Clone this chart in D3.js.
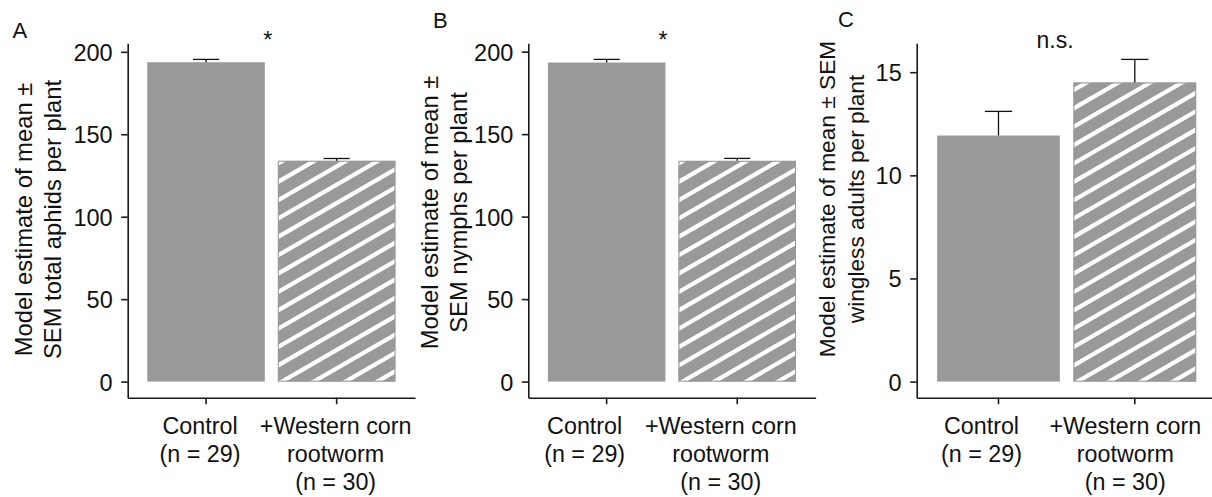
<!DOCTYPE html>
<html>
<head>
<meta charset="utf-8">
<script src="https://cdn.jsdelivr.net/npm/d3@7"></script>
<style>
  html, body { margin: 0; padding: 0; background: #fff; }
  svg { display: block; font-family: "Liberation Sans", Arial, Helvetica, sans-serif; }
</style>
</head>
<body>
<svg id="chart" width="1212" height="497"></svg>
<script>
// ---- data ----
const categories = ["Control", "+Western corn rootworm"];
const categoryLabels = [["Control", "(n = 29)"], ["+Western corn", "rootworm", "(n = 30)"]];

const totalAphidsMean = [193.7, 133.9];
const totalAphidsSem  = [1.7, 1.4];
const nymphsMean      = [193.4, 133.8];
const nymphsSem       = [1.9, 1.5];
const winglessMean    = [11.93, 14.50];
const winglessSem     = [1.17, 1.12];

const totalTicks    = [0, 50, 100, 150, 200];
const nymphTicks    = [0, 50, 100, 150, 200];
const winglessTicks = [0, 5, 10, 15];

const panelLetters = ["A", "B", "C"];
const yTitles = [
  ["Model estimate of mean \u00b1", "SEM total aphids per plant"],
  ["Model estimate of mean \u00b1", "SEM nymphs per plant"],
  ["Model estimate of mean \u00b1 SEM", "wingless adults per plant"]
];
const significance = ["*", "*", "n.s."];

const panels = [
  { mean: totalAphidsMean, sem: totalAphidsSem, ticks: totalTicks },
  { mean: nymphsMean,      sem: nymphsSem,      ticks: nymphTicks },
  { mean: winglessMean,    sem: winglessSem,    ticks: winglessTicks }
];

// ---- layout ----
const plotTop = 43.3, plotBottom = 397.7;
const layout = [
  { left: 127.7, right: 415.0,  titleX: [31.7, 60.5],   titleMid: 219.5, titleSize: 23.8, letter: [12.5, 38.3], noteDx: -3.5,  labelDx: [-6, -1] },
  { left: 528.3, right: 815.6,  titleX: [438.3, 466.7], titleMid: 212.5, titleSize: 23.8, letter: [433, 28.3],  noteDx: -9,    labelDx: [-22, -16.5] },
  { left: 916.7, right: 1216.6, titleX: [835, 863.5],   titleMid: 199,   titleSize: 22.7, letter: [838, 26.5],  noteDx: -11.6, labelDx: [-17, -9.5] }
];
const barFill = "#999999";
const ink = "#111111";
const axisColor = "#1a1a1a";
const hatchAngle = 30 * Math.PI / 180;
const hatchSpacing = 15.9;
const hatchWidth = 4.2;
const tickFont = 23.5;
const labelFont = 23.3;

const svg = d3.select("#chart");
const defs = svg.append("defs");

panels.forEach((p, pi) => {
  const L = layout[pi];
  const g = svg.append("g");

  const x = d3.scaleBand().domain(categories).range([L.left, L.right])
    .paddingInner(0.1).paddingOuter(0.15);
  const hi = d3.max(p.mean.map((m, i) => m + p.sem[i]));
  const pad = hi * 0.05;
  const y = d3.scaleLinear().domain([-pad, hi + pad]).range([plotBottom, plotTop]);

  // bars
  categories.forEach((c, i) => {
    const x0 = x(c), w = x.bandwidth();
    const yTop = y(p.mean[i]), y0 = y(0);
    g.append("rect")
      .attr("x", x0).attr("y", yTop)
      .attr("width", w).attr("height", y0 - yTop)
      .attr("fill", barFill);

    if (i === 1) {
      // diagonal white hatching, clipped to the bar
      const clipId = "clip-" + pi;
      defs.append("clipPath").attr("id", clipId)
        .append("rect").attr("x", x0).attr("y", yTop).attr("width", w).attr("height", y0 - yTop);
      const nx = Math.sin(hatchAngle), ny = Math.cos(hatchAngle);
      const s0 = nx * (x0 + 4) + ny * y0;
      const sMin = nx * x0 + ny * yTop, sMax = nx * (x0 + w) + ny * y0;
      const kMin = Math.floor((sMin - s0) / hatchSpacing) - 1;
      const kMax = Math.ceil((sMax - s0) / hatchSpacing) + 1;
      const hg = g.append("g").attr("clip-path", `url(#${clipId})`);
      for (let k = kMin; k <= kMax; k++) {
        const s = s0 + k * hatchSpacing;
        const xa = x0 - 5, xb = x0 + w + 5;
        hg.append("line")
          .attr("x1", xa).attr("y1", (s - nx * xa) / ny)
          .attr("x2", xb).attr("y2", (s - nx * xb) / ny)
          .attr("stroke", "#fff").attr("stroke-width", hatchWidth);
      }
      g.append("rect")
        .attr("x", x0 + 0.5).attr("y", yTop + 0.5)
        .attr("width", w - 1).attr("height", y0 - yTop - 1)
        .attr("fill", "none").attr("stroke", barFill).attr("stroke-width", 1);
    }

    // error bar (upper half only)
    const cx = x0 + w / 2, capHalf = x.step() * 0.1;
    const yUp = y(p.mean[i] + p.sem[i]);
    g.append("line").attr("x1", cx).attr("x2", cx).attr("y1", yTop).attr("y2", yUp)
      .attr("stroke", ink).attr("stroke-width", 1.3);
    g.append("line").attr("x1", cx - capHalf).attr("x2", cx + capHalf).attr("y1", yUp).attr("y2", yUp)
      .attr("stroke", ink).attr("stroke-width", 1.3);
  });

  // y axis
  const ya = g.append("g").attr("transform", `translate(${L.left},0)`)
    .call(d3.axisLeft(y).tickValues(p.ticks).tickSize(6.5).tickSizeOuter(0).tickPadding(8.5));
  ya.attr("font-size", null).attr("font-family", null);
  ya.select(".domain").attr("stroke", axisColor).attr("stroke-width", 1.6);
  ya.selectAll(".tick line").attr("stroke", axisColor).attr("stroke-width", 1.6);
  ya.selectAll(".tick text").attr("fill", ink).attr("font-size", tickFont).attr("dy", "0.36em");

  // x axis
  const xa = g.append("g").attr("transform", `translate(0,${plotBottom})`)
    .call(d3.axisBottom(x).tickSize(6.5).tickSizeOuter(0));
  xa.attr("font-size", null).attr("font-family", null);
  xa.select(".domain").attr("stroke", axisColor).attr("stroke-width", 1.6);
  xa.selectAll(".tick line").attr("stroke", axisColor).attr("stroke-width", 1.6);
  xa.selectAll(".tick text").each(function (d, i) {
    const t = d3.select(this).text(null).attr("dy", null).attr("y", null)
      .attr("fill", ink).attr("font-size", labelFont).attr("text-anchor", "middle");
    categoryLabels[i].forEach((line, li) => {
      t.append("tspan").attr("x", L.labelDx[i]).attr("y", 36.8 + li * 27.7).text(line);
    });
  });

  // y title (two lines)
  yTitles[pi].forEach((line, li) => {
    g.append("text")
      .attr("transform", `translate(${L.titleX[li]},${L.titleMid}) rotate(-90)`)
      .attr("text-anchor", "middle")
      .attr("font-size", L.titleSize)
      .attr("fill", ink)
      .text(line);
  });

  // panel letter
  g.append("text").attr("x", L.letter[0]).attr("y", L.letter[1])
    .attr("font-size", 22).attr("fill", ink).text(panelLetters[pi]);

  // significance note between the bars
  const mid = (x(categories[0]) + x(categories[1]) + x.bandwidth()) / 2;
  g.append("text").attr("x", mid + L.noteDx).attr("y", 48.4)
    .attr("text-anchor", "middle").attr("font-size", 23).attr("fill", ink)
    .text(significance[pi]);
});
</script>
</body>
</html>
